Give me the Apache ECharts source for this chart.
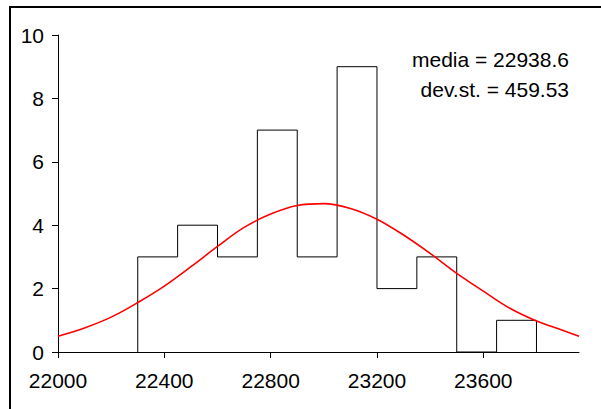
<!DOCTYPE html>
<html>
<head>
<meta charset="utf-8">
<script src="https://cdn.jsdelivr.net/npm/echarts@6/dist/echarts.min.js"></script>
<style>html,body{margin:0;padding:0;background:#fff;}#c{width:601px;height:409px;}</style>
</head>
<body>
<div id="c"></div>
<script>
// Histogram: bin left edges (width 150) and counts
var binEdges = [22300, 22450, 22600, 22750, 22900, 23050, 23200, 23350, 23500, 23650, 23800];
var counts = [3, 4, 3, 7, 3, 9, 2, 3, 0, 1];
// Fitted normal curve
var curveX = [22000,22100,22200,22300,22400,22500,22600,22700,22800,22900,23000,23100,23200,23300,23400,23500,23600,23700,23800,23900,23960];
var curveY = [0.50,0.76,1.10,1.56,2.08,2.69,3.33,3.93,4.35,4.62,4.68,4.53,4.19,3.69,3.11,2.48,1.92,1.38,0.98,0.68,0.50];
var xTicks = [22000, 22400, 22800, 23200, 23600];
var statLines = ['media = 22938.6', 'dev.st. = 459.53'];

var histPts = [[binEdges[0], 0]];
for (var i = 0; i < counts.length; i++) histPts.push([binEdges[i], counts[i]]);
histPts.push([binEdges[binEdges.length - 1], 0]);
var curvePts = curveX.map(function (x, i) { return [x, curveY[i]]; });

var font = '"Liberation Sans", Arial, sans-serif';
var chart = echarts.init(document.getElementById('c'), null, {renderer: 'svg'});
chart.setOption({
  animation: false,
  backgroundColor: '#fff',
  grid: {left: 58, right: 22, top: 35, bottom: 57},
  xAxis: {
    type: 'value', min: 22000, max: 23960, interval: 400,
    axisLine: {lineStyle: {color: '#000', width: 1}},
    axisTick: {show: true, length: 6, inside: false, customValues: xTicks, lineStyle: {color: '#000'}},
    axisLabel: {customValues: xTicks, color: '#000', fontSize: 21, fontFamily: font, margin: 18,
      formatter: function (v) { return String(v); }},
    splitLine: {show: false}
  },
  yAxis: {
    type: 'value', min: 0, max: 10, interval: 2,
    axisLine: {show: true, lineStyle: {color: '#000', width: 1}},
    axisTick: {show: true, length: 6, lineStyle: {color: '#000'}},
    axisLabel: {color: '#000', fontSize: 21, fontFamily: font, margin: 14},
    splitLine: {show: false}
  },
  graphic: [
    {type: 'rect', shape: {x: 10, y: 7, width: 700, height: 500}, style: {fill: 'none', stroke: '#000', lineWidth: 2}, silent: true, z: -10},
    {type: 'text', right: 32, top: 49, style: {text: statLines[0], fill: '#000', font: '21px ' + font, textAlign: 'right'}},
    {type: 'text', right: 32, top: 79, style: {text: statLines[1], fill: '#000', font: '21px ' + font, textAlign: 'right'}}
  ],
  series: [
    {type: 'line', data: histPts, step: 'end', symbol: 'none', lineStyle: {color: '#000', width: 1}, z: 2},
    {type: 'line', data: curvePts, smooth: 0.35, symbol: 'none', lineStyle: {color: '#ff0000', width: 1.6}, z: 3}
  ]
});
</script>
</body>
</html>
